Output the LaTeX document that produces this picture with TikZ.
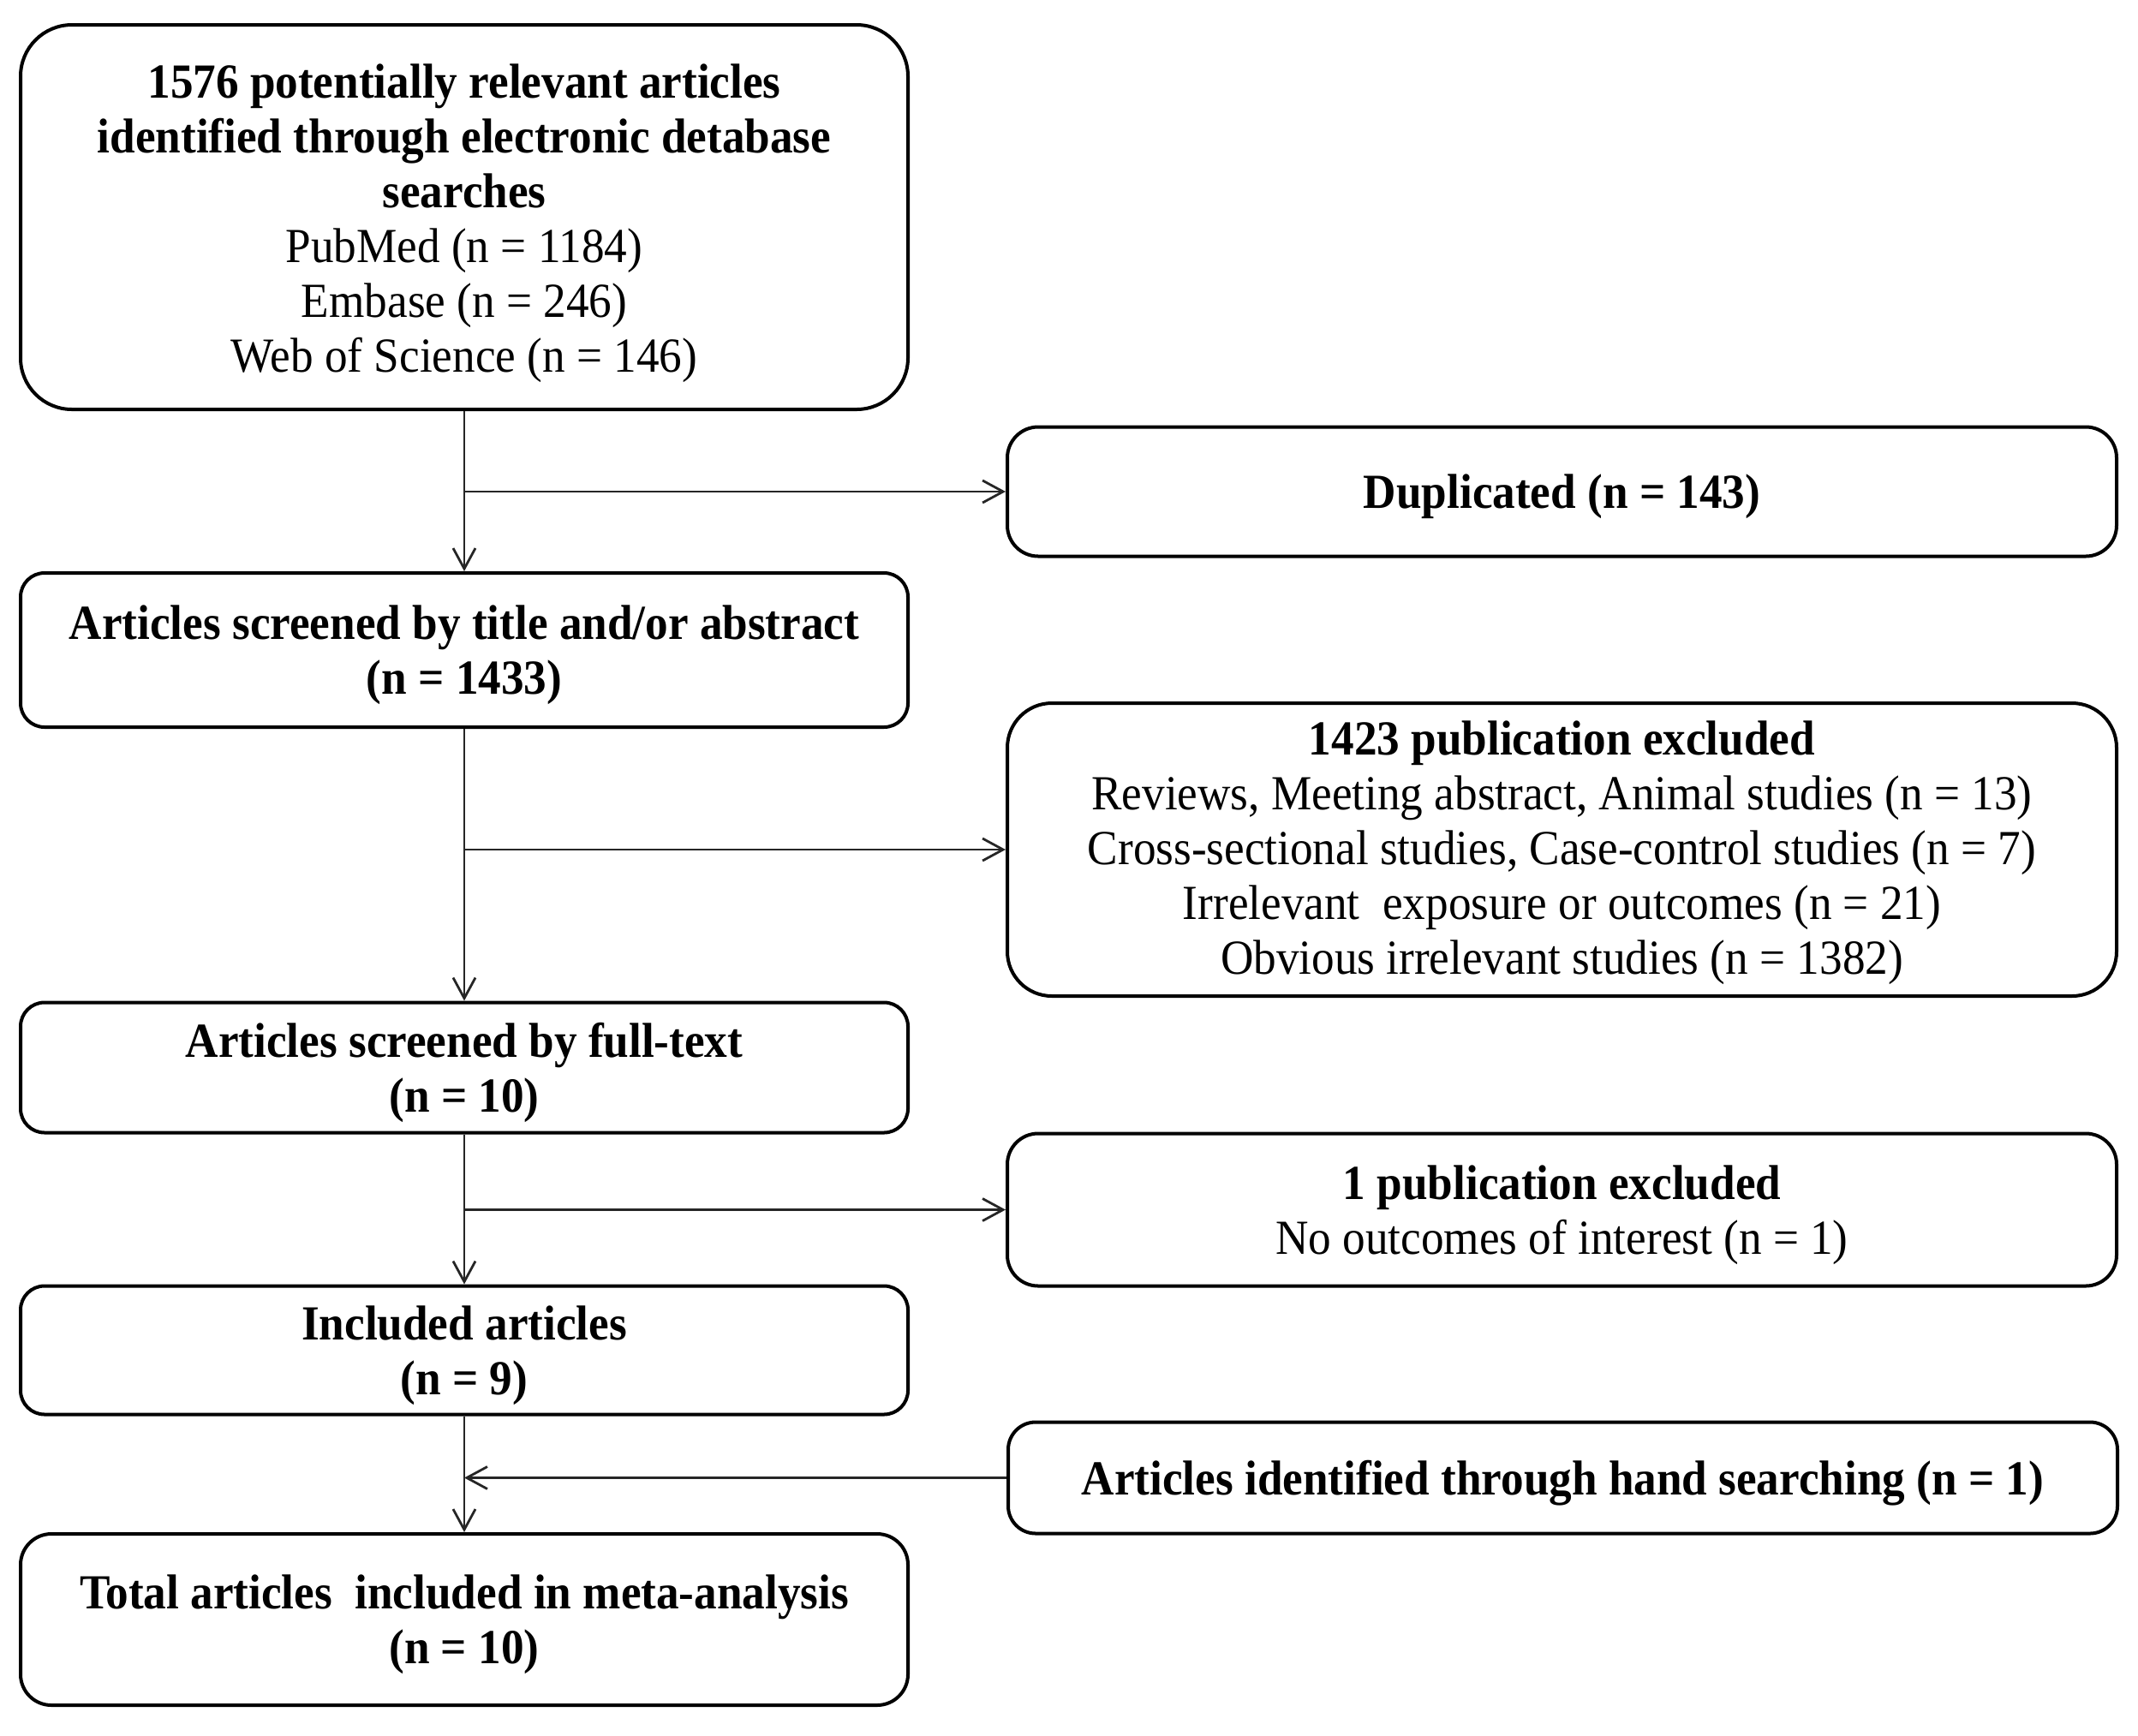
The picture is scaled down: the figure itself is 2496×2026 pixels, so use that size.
\documentclass[tikz,border=0pt]{standalone}
\usepackage{fontspec}
\setmainfont{Liberation Serif}[FakeStretch=0.93]
\usetikzlibrary{arrows.meta}
\begin{document}
\begin{tikzpicture}[x=0.25pt,y=-0.25pt,
  box/.style={draw,line width=1pt,rounded corners=#1,inner sep=0pt},
  lbox/.style={box=#1,minimum width=259pt,anchor=center},
  rbox/.style={box=#1,minimum width=323.75pt,anchor=center},
  txt/.style={align=center,inner sep=0pt,font=\fontsize{14.3}{16}\selectfont},
  conn/.style={line width=0.7pt,draw=black!85,-{Straight Barb[length=6pt,width=6.5pt]}}]
\useasboundingbox (0,0) rectangle (2496,2026);
\node[lbox=15pt,minimum height=112.25pt] (b1) at (542,253.5) {};
\node[txt] (b1t) at ([yshift=-1.8pt]b1.center)
  {\textbf{1576 potentially relevant articles}\\
   \textbf{identified through electronic detabase}\\
   \textbf{searches}\\
   PubMed (n = 1184)\\
   Embase (n = 246)\\
   Web of Science (n = 146)};
\node[rbox=9pt,minimum height=37.75pt] (dup) at (1823.5,574) {};
\node[txt] (dupt) at ([yshift=-1.5pt]dup.center) {\textbf{Duplicated (n = 143)}};
\node[lbox=7pt,minimum height=45pt] (b2) at (542,759) {};
\node[txt] (b2t) at ([yshift=-1.5pt]b2.center)
  {\textbf{Articles screened by title and/or abstract}\\ \textbf{(n = 1433)}};
\node[rbox=13pt,minimum height=85.5pt] (ex1) at (1823.5,992) {};
\node[txt] (ex1t) at ([yshift=-1pt]ex1.center)
  {\textbf{1423 publication excluded}\\
   Reviews, Meeting abstract, Animal studies (n = 13)\\
   Cross-sectional studies, Case-control studies (n = 7)\\
   Irrelevant\ \ exposure or outcomes (n = 21)\\
   Obvious irrelevant studies (n = 1382)};
\node[lbox=7pt,minimum height=38pt] (b3) at (542,1246.5) {};
\node[txt] (b3t) at ([yshift=-1.5pt]b3.center)
  {\textbf{Articles screened by full-text}\\ \textbf{(n = 10)}};
\node[rbox=9pt,minimum height=44.5pt] (ex2) at (1823.5,1412.5) {};
\node[txt] (ex2t) at ([yshift=-1.5pt]ex2.center)
  {\textbf{1 publication excluded}\\ No outcomes of interest (n = 1)};
\node[lbox=7pt,minimum height=37.5pt] (b4) at (542,1576.5) {};
\node[txt] (b4t) at ([yshift=-1.5pt]b4.center)
  {\textbf{Included articles}\\ \textbf{(n = 9)}};
\node[rbox=8pt,minimum height=32.5pt] (hand) at (1824.5,1725.5) {};
\node[txt] (handt) at ([yshift=-1.5pt]hand.center)
  {\textbf{Articles identified through hand searching (n = 1)}};
\node[lbox=9pt,minimum height=50pt] (b5) at (542,1891) {};
\node[txt] (b5t) at ([yshift=-1.5pt]b5.center)
  {\textbf{Total articles\ \ included in meta-analysis}\\ \textbf{(n = 10)}};
\draw[conn] (b1.south) -- (b2.north);
\draw[conn] (b1.south |- dup.west) -- (dup.west);
\draw[conn] (b2.south) -- (b3.north);
\draw[conn] (b2.south |- ex1.west) -- (ex1.west);
\draw[conn] (b3.south) -- (b4.north);
\draw[conn] (b3.south |- ex2.west) -- (ex2.west);
\draw[conn] (b4.south) -- (b5.north);
\draw[conn] (hand.west) -- (b4.south |- hand.west);
\end{tikzpicture}
\end{document}
